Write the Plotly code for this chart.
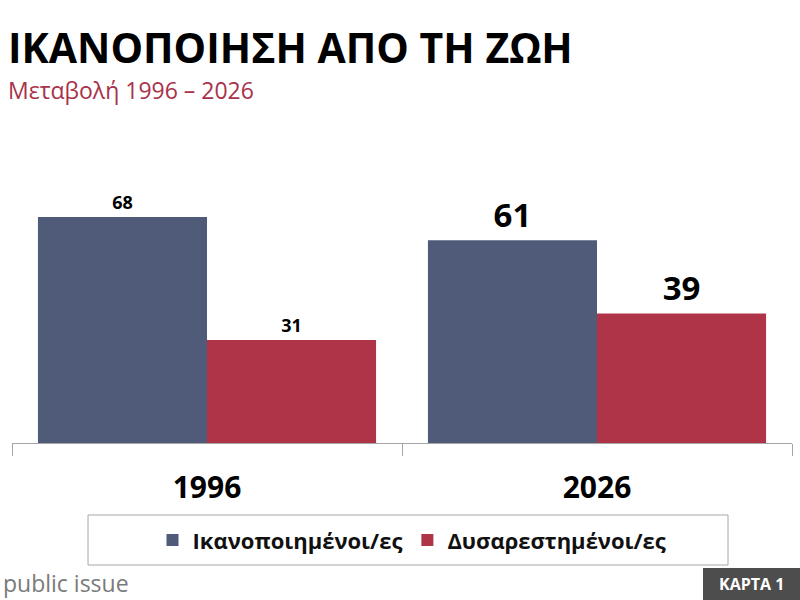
import plotly.graph_objects as go

categories = ["1996", "2026"]
satisfied = [68, 61]
dissatisfied = [31, 39]
series_names = ["Ικανοποιημένοι/ες", "Δυσαρεστημένοι/ες"]
label_sizes = [18, 33]

BLUE = "#4F5B78"
RED = "#B03448"
FONT = "Open Sans"

fig = go.Figure()
for name, vals, col in [(series_names[0], satisfied, BLUE), (series_names[1], dissatisfied, RED)]:
    fig.add_trace(go.Bar(
        x=categories, y=vals, name=name, marker=dict(color=col, line=dict(width=0)),
        texttemplate="<b>%{y}</b>", textposition="outside", cliponaxis=False,
        textfont=dict(family=FONT, size=label_sizes, color="black"),
    ))

L = 12
W = 780
fig.update_layout(
    width=800, height=600,
    margin=dict(l=L, r=800 - L - W, t=144, b=157),
    paper_bgcolor="white", plot_bgcolor="white",
    barmode="group", bargap=0.133, bargroupgap=0,
    font=dict(family=FONT),
    showlegend=True,
    legend=dict(orientation="h", x=(412 - L) / W, xanchor="center", y=-0.325, yanchor="middle",
                font=dict(family=FONT, size=22, color="#111", weight="bold"), bgcolor="rgba(0,0,0,0)",
                itemwidth=30, traceorder="normal"),
    xaxis=dict(showline=True, linecolor="#A6A6A6", linewidth=1, ticks="outside",
               tickson="boundaries", ticklen=12, tickcolor="#A6A6A6",
               tickfont=dict(family=FONT, size=30, color="black", weight="bold"),
               ticklabelstandoff=18, showgrid=False),
    yaxis=dict(range=[0, 90], visible=False, showgrid=False),
)

def px(x):
    return (x - L) / W

def py(y):
    return (443 - y) / 299

# legend frame
fig.add_shape(type="rect", xref="paper", yref="paper",
              x0=px(88), x1=px(728), y0=py(565), y1=py(515),
              line=dict(color="#A6A6A6", width=1), fillcolor="rgba(0,0,0,0)")

# title and subtitle
fig.add_annotation(text="<b>ΙΚΑΝΟΠΟΙΗΣΗ ΑΠΟ ΤΗ ΖΩΗ</b>", xref="paper", yref="paper",
                   x=px(6), y=py(47), xanchor="left", yanchor="middle",
                   showarrow=False, font=dict(family=FONT, size=41, color="black"))
fig.add_annotation(text="Μεταβολή 1996 – 2026", xref="paper", yref="paper",
                   x=px(6), y=py(90), xanchor="left", yanchor="middle",
                   showarrow=False, font=dict(family=FONT, size=23, color="#A8324A"))

# footer
fig.add_annotation(text="public issue", xref="paper", yref="paper",
                   x=px(2), y=py(583), xanchor="left", yanchor="middle",
                   showarrow=False, font=dict(family=FONT, size=23, color="#7A7A7A"),
                   borderpad=0)
fig.add_shape(type="rect", xref="paper", yref="paper",
              x0=px(703), x1=px(800), y0=py(600), y1=py(568),
              line=dict(width=0), fillcolor="#4D4D4D")
fig.add_annotation(text="<b>ΚΑΡΤΑ 1</b>", xref="paper", yref="paper",
                   x=px(751), y=py(584), xanchor="center", yanchor="middle",
                   showarrow=False, font=dict(family=FONT, size=16, color="white"))

fig.write_html("out.html")
